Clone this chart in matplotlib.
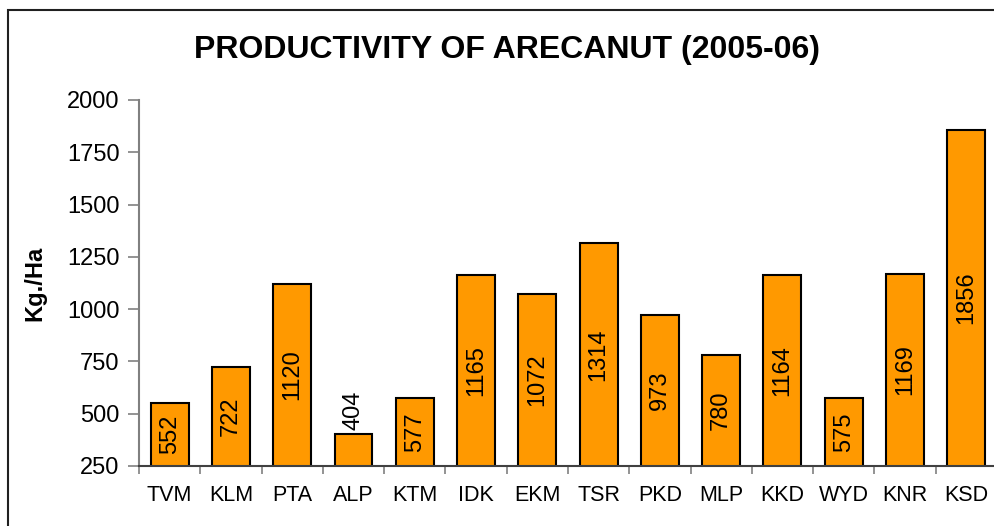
import numpy as np
import matplotlib.pyplot as plt
from matplotlib.patches import Rectangle

plt.rcParams["font.family"] = ["Liberation Sans", "DejaVu Sans"]

# Data
districts = ["TVM", "KLM", "PTA", "ALP", "KTM", "IDK", "EKM",
             "TSR", "PKD", "MLP", "KKD", "WYD", "KNR", "KSD"]
productivity = [552, 722, 1120, 404, 577, 1165, 1072,
                1314, 973, 780, 1164, 575, 1169, 1856]
y_ticks = [250, 500, 750, 1000, 1250, 1500, 1750, 2000]

fig = plt.figure(figsize=(9.95, 5.26), dpi=100)
ax = fig.add_axes([0.1397, 0.1141, 0.8623, 0.6958])

x = np.arange(len(districts))
bars = ax.bar(x, productivity, width=0.62, bottom=0,
              color="#FF9900", edgecolor="black", linewidth=1.5, zorder=2)

ax.set_xlim(-0.5, len(districts) - 0.5)
ax.set_ylim(250, 2000)

# value labels, rotated like the original
for xi, v in zip(x, productivity):
    if v < 450:
        ax.text(xi, v + 20, str(v), rotation=90, ha="center", va="bottom",
                fontsize=17)
    else:
        ax.text(xi, (250 + v) / 2, str(v), rotation=90, ha="center",
                va="center", fontsize=17, clip_on=True)

# axes styling
ax.set_yticks(y_ticks)
ax.tick_params(axis="y", labelsize=17, length=8, width=1.2, color="#808080",
               pad=6)
ax.set_xticks(x)
ax.set_xticklabels(districts)
ax.tick_params(axis="x", which="major", length=0, labelsize=15.5, pad=14)
ax.set_xticks(np.arange(len(districts) + 1) - 0.5, minor=True)
ax.tick_params(axis="x", which="minor", length=6, width=1.2, color="#808080")

for s in ["top", "right"]:
    ax.spines[s].set_visible(False)
ax.spines["left"].set_color("#808080")
ax.spines["left"].set_linewidth(1.5)
ax.spines["bottom"].set_color("#404040")
ax.spines["bottom"].set_linewidth(1.5)

ax.set_ylabel("Kg./Ha", fontsize=17, fontweight="bold")
ax.yaxis.set_label_coords(-0.108, 0.5)

fig.text(0.51, 0.905, "PRODUCTIVITY OF ARECANUT (2005-06)", ha="center",
         va="center", fontsize=23, fontweight="bold")

# chart border
fig.patches.append(Rectangle((8 / 995, -0.05), 1.1, 1 - 10 / 526 + 0.05,
                             transform=fig.transFigure, fill=False,
                             edgecolor="#202020", linewidth=1.5))

fig.savefig("out.png", dpi=100)
